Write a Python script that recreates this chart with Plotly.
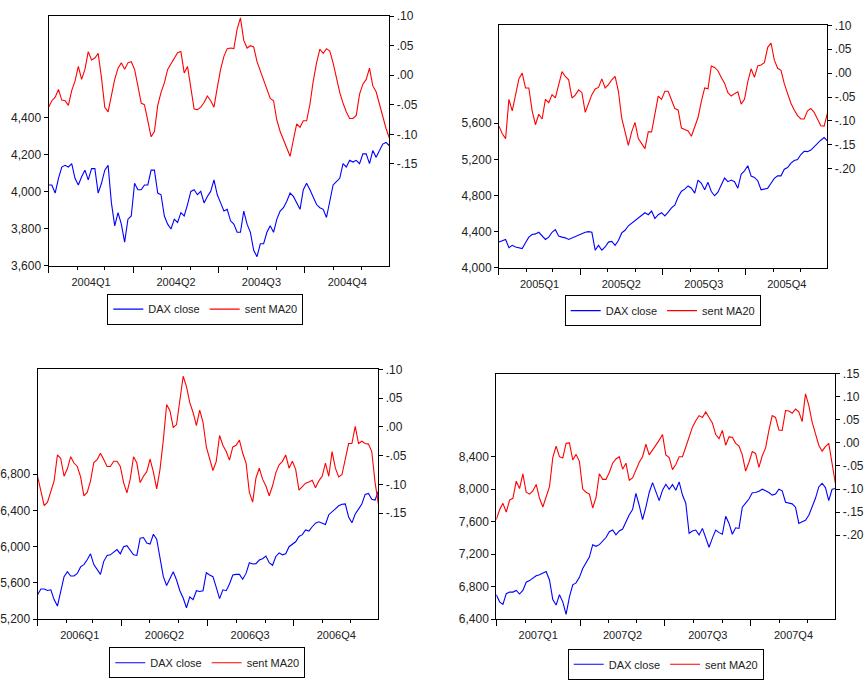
import pandas as pd
import plotly.graph_objects as go

# ---------------- data ----------------
years = [2004, 2005, 2006, 2007]

dax_2004 = [4036, 4036, 3992, 4072, 4133, 4142, 4133, 4151, 4072, 4036,
            4080, 4116, 4063, 4124, 4124, 3992, 4045, 4116, 4142, 3939,
            3815, 3886, 3824, 3727, 3851, 3868, 4045, 4010, 4010, 4036,
            4036, 4116, 4116, 3992, 3983, 3868, 3824, 3798, 3851, 3833,
            3886, 3868, 3930, 4001, 4010, 3983, 4001, 3939, 3974, 4001,
            4063, 3983, 3939, 3895, 3904, 3842, 3824, 3780, 3780, 3895,
            3824, 3780, 3683, 3648, 3718, 3718, 3780, 3815, 3780, 3851,
            3895, 3913, 3948, 3992, 3974, 3939, 3904, 4010, 4045, 4010,
            3974, 3930, 3913, 3904, 3860, 3957, 4036, 4054, 4072, 4151,
            4133, 4169, 4160, 4169, 4151, 4204, 4204, 4151, 4222, 4186,
            4222, 4257, 4266, 4248]
sent_2004 = [-0.054, -0.043, -0.037, -0.024, -0.042, -0.043, -0.051, -0.026, -0.010, 0.015,
             -0.007, 0.010, 0.040, 0.026, 0.029, 0.037, -0.004, -0.054, -0.062, -0.032,
             -0.007, 0.012, 0.021, 0.010, 0.021, 0.023, 0.010, -0.018, -0.047, -0.050,
             -0.076, -0.104, -0.095, -0.051, -0.029, -0.013, 0.010, 0.019, 0.028, 0.038,
             0.040, 0.004, 0.015, -0.021, -0.057, -0.058, -0.054, -0.046, -0.035, -0.043,
             -0.054, -0.021, 0.010, 0.032, 0.045, 0.046, 0.045, 0.078, 0.097, 0.059,
             0.046, 0.050, 0.048, 0.023, 0.007, -0.007, -0.025, -0.039, -0.043, -0.076,
             -0.095, -0.109, -0.122, -0.137, -0.109, -0.082, -0.088, -0.077, -0.077, -0.049,
             -0.010, 0.021, 0.044, 0.037, 0.045, 0.041, 0.021, -0.004, -0.029, -0.047,
             -0.062, -0.073, -0.073, -0.068, -0.032, -0.015, -0.007, 0.012, -0.018, -0.028,
             -0.049, -0.068, -0.090, -0.106]

dax_2005 = [4282, 4300, 4311, 4221, 4246, 4228, 4217, 4210, 4275, 4337,
            4366, 4373, 4391, 4355, 4311, 4337, 4391, 4420, 4348, 4337,
            4329, 4311, 4326, 4348, 4362, 4373, 4391, 4398, 4391, 4192,
            4246, 4192, 4228, 4282, 4290, 4246, 4300, 4384, 4413, 4463,
            4492, 4518, 4554, 4579, 4608, 4586, 4626, 4543, 4586, 4608,
            4572, 4615, 4662, 4691, 4782, 4847, 4869, 4905, 4880, 4825,
            4970, 4934, 4862, 4945, 4843, 4796, 4836, 4916, 4992, 4952,
            4970, 4952, 4880, 5035, 5072, 5129, 5014, 4999, 4963, 4862,
            4869, 4880, 4934, 4988, 5017, 5017, 5090, 5108, 5158, 5187,
            5198, 5253, 5289, 5285, 5303, 5343, 5376, 5412, 5441, 5405]
sent_2005 = [-0.111, -0.127, -0.137, -0.055, -0.079, -0.045, -0.012, 0.000, -0.031, -0.031,
             -0.079, -0.108, -0.086, -0.096, -0.055, -0.062, -0.045, -0.052, -0.024, 0.003,
             -0.007, -0.014, -0.052, -0.046, -0.035, -0.041, -0.082, -0.065, -0.045, -0.033,
             -0.030, -0.012, -0.031, -0.024, -0.014, -0.007, -0.038, -0.094, -0.120, -0.151,
             -0.123, -0.103, -0.137, -0.147, -0.158, -0.123, -0.123, -0.086, -0.048, -0.055,
             -0.038, -0.038, -0.056, -0.074, -0.077, -0.115, -0.118, -0.121, -0.132, -0.110,
             -0.093, -0.059, -0.031, -0.033, 0.015, 0.012, 0.005, -0.009, -0.021, -0.041,
             -0.048, -0.043, -0.039, -0.065, -0.055, -0.018, 0.009, -0.009, 0.015, 0.017,
             0.022, 0.054, 0.063, 0.027, 0.010, 0.006, -0.022, -0.043, -0.063, -0.077,
             -0.089, -0.096, -0.096, -0.079, -0.074, -0.082, -0.096, -0.110, -0.111, -0.084]

dax_2006 = [5470, 5532, 5532, 5517, 5524, 5416, 5344, 5524, 5669, 5723,
            5676, 5676, 5705, 5777, 5802, 5856, 5921, 5802, 5751, 5694,
            5838, 5903, 5910, 5939, 5968, 5921, 6000, 6011, 5964, 5910,
            5903, 6094, 6101, 6040, 6029, 6137, 6083, 5867, 5669, 5571,
            5651, 5723, 5632, 5514, 5434, 5326, 5445, 5416, 5514, 5506,
            5514, 5712, 5687, 5669, 5550, 5427, 5524, 5514, 5589, 5687,
            5694, 5694, 5640, 5705, 5823, 5809, 5813, 5852, 5867, 5896,
            5823, 5795, 5892, 5932, 5910, 5921, 6000, 6025, 6054, 6112,
            6133, 6184, 6173, 6220, 6260, 6274, 6263, 6245, 6353, 6382,
            6418, 6451, 6469, 6472, 6328, 6263, 6360, 6415, 6472, 6577,
            6588, 6523, 6515, 6613]
sent_2006 = [-0.086, -0.114, -0.137, -0.131, -0.110, -0.094, -0.049, -0.055, -0.086, -0.073,
             -0.052, -0.063, -0.069, -0.087, -0.120, -0.114, -0.094, -0.062, -0.057, -0.046,
             -0.057, -0.069, -0.069, -0.060, -0.060, -0.069, -0.097, -0.115, -0.091, -0.052,
             -0.063, -0.097, -0.086, -0.078, -0.056, -0.079, -0.108, -0.074, -0.023, 0.039,
             0.028, -0.001, 0.004, 0.051, 0.088, 0.070, 0.042, 0.025, 0.002, 0.029,
             0.008, -0.035, -0.055, -0.076, -0.060, -0.015, -0.032, -0.043, -0.058, -0.035,
             -0.032, -0.023, -0.046, -0.063, -0.114, -0.131, -0.089, -0.072, -0.091, -0.103,
             -0.120, -0.103, -0.080, -0.066, -0.060, -0.049, -0.072, -0.060, -0.074, -0.110,
             -0.104, -0.098, -0.096, -0.093, -0.106, -0.094, -0.086, -0.063, -0.086, -0.043,
             -0.072, -0.087, -0.083, -0.055, -0.029, -0.029, 0.001, -0.029, -0.025, -0.029,
             -0.030, -0.043, -0.097, -0.134]

dax_2007 = [6701, 6613, 6581, 6713, 6733, 6733, 6753, 6709, 6753, 6854,
            6874, 6902, 6934, 6946, 6966, 6986, 6882, 6641, 6573, 6701,
            6613, 6460, 6673, 6822, 6846, 6914, 7022, 7095, 7163, 7316,
            7296, 7316, 7364, 7404, 7476, 7496, 7436, 7484, 7508, 7597,
            7685, 7749, 7946, 7798, 7625, 7777, 7958, 8079, 7966, 7858,
            7986, 8059, 7998, 8055, 7986, 8087, 7926, 7826, 7456, 7484,
            7496, 7436, 7516, 7404, 7284, 7396, 7496, 7464, 7444, 7665,
            7577, 7444, 7524, 7516, 7777, 7826, 7878, 7954, 7958, 7974,
            7998, 7978, 7958, 7926, 7938, 7998, 7978, 7838, 7826, 7818,
            7777, 7577, 7597, 7617, 7677, 7786, 7886, 8026, 8071, 8018,
            7858, 7998, 8006]
sent_2007 = [-0.166, -0.145, -0.131, -0.150, -0.124, -0.120, -0.083, -0.099, -0.067, -0.107,
             -0.111, -0.104, -0.090, -0.120, -0.139, -0.117, -0.095, -0.032, -0.007, -0.030,
             -0.033, -0.001, 0.000, -0.037, -0.025, -0.040, -0.100, -0.107, -0.111, -0.141,
             -0.118, -0.067, -0.079, -0.079, -0.064, -0.044, -0.035, -0.030, -0.057, -0.044,
             -0.081, -0.076, -0.058, -0.042, -0.030, -0.003, -0.026, -0.014, -0.005, 0.006,
             0.018, -0.026, -0.032, -0.058, -0.047, -0.030, -0.030, -0.009, 0.014, 0.034,
             0.048, 0.059, 0.055, 0.067, 0.055, 0.043, 0.018, 0.009, 0.027, -0.005,
             0.013, 0.012, -0.001, -0.007, -0.026, -0.061, -0.042, -0.019, -0.023, -0.053,
             -0.028, -0.011, 0.027, 0.059, 0.055, 0.028, 0.027, 0.070, 0.069, 0.064,
             0.073, 0.067, 0.046, 0.106, 0.081, 0.045, 0.020, -0.005, -0.018, -0.008,
             -0.001, -0.046, -0.088]

dax_ticks_2004 = [3600, 3800, 4000, 4200, 4400]
dax_ticks_2005 = [4000, 4400, 4800, 5200, 5600]
dax_ticks_2006 = [5200, 5600, 6000, 6400, 6800]
dax_ticks_2007 = [6400, 6800, 7200, 7600, 8000, 8400]
sent_ticks_2004 = [0.10, 0.05, 0.00, -0.05, -0.10, -0.15]
sent_ticks_2005 = [0.10, 0.05, 0.00, -0.05, -0.10, -0.15, -0.20]
sent_ticks_2006 = [0.10, 0.05, 0.00, -0.05, -0.10, -0.15]
sent_ticks_2007 = [0.15, 0.10, 0.05, 0.00, -0.05, -0.10, -0.15, -0.20]

series_names = ["DAX close", "sent MA20"]

# ---------------- layout settings ----------------
W, H = 864, 681
panels = [
    dict(year=2004, dax=dax_2004, sent=sent_2004, lt=dax_ticks_2004, rt=sent_ticks_2004,
         box=(45.7, 387.7, 9.3, 264.0), lr=[3600, 4949], rr=[-0.3217, 0.10], leg=(203, 308.5)),
    dict(year=2005, dax=dax_2005, sent=sent_2005, lt=dax_ticks_2005, rt=sent_ticks_2005,
         box=(497.7, 827.3, 18.7, 266.0), lr=[4000, 6686], rr=[-0.4068, 0.10], leg=(662, 310)),
    dict(year=2006, dax=dax_2006, sent=sent_2006, lt=dax_ticks_2006, rt=sent_ticks_2006,
         box=(34.7, 376.7, 370.0, 625.0), lr=[5200, 7957], rr=[-0.3347, 0.10], leg=(205, 669.5)),
    dict(year=2007, dax=dax_2007, sent=sent_2007, lt=dax_ticks_2007, rt=sent_ticks_2007,
         box=(495.0, 835.3, 374.3, 625.0), lr=[6400, 9420], rr=[-0.3818, 0.15], leg=(665, 671)),
]

FONT = "Liberation Sans, Arial, Helvetica, sans-serif"
BLUE = "#0000FF"
RED = "#FF0000"
TXT = "#222222"


def sent_label(v):
    s = f"{abs(v):.2f}"[1:]
    return ("-" if v < -1e-9 else "") + s


fig = go.Figure()
layout = dict(
    width=W, height=H, margin=dict(l=0, r=0, t=0, b=0),
    paper_bgcolor="white", plot_bgcolor="white",
    font=dict(family=FONT, size=11, color=TXT),
)

for i, p in enumerate(panels):
    n = i + 1
    xa = "x" if n == 1 else f"x{n}"
    yl = "y" if n == 1 else f"y{2 * n - 1}"
    yr = f"y{2 * n}"
    lg = "legend" if n == 1 else f"legend{n}"
    yr_key = "yaxis" + yr[1:]
    yl_key = "yaxis" + yl[1:]
    xa_key = "xaxis" + xa[1:]

    yy = p["year"]
    xd = pd.date_range(f"{yy}-01-01", f"{yy}-12-31", periods=len(p["dax"]))
    xs = pd.date_range(f"{yy}-01-01", f"{yy}-12-31", periods=len(p["sent"]))

    fig.add_trace(go.Scatter(x=xd, y=p["dax"], mode="lines", name=series_names[0],
                             line=dict(color=BLUE, width=1.1), xaxis=xa, yaxis=yl,
                             legend=lg, showlegend=True))
    fig.add_trace(go.Scatter(x=xs, y=p["sent"], mode="lines", name=series_names[1],
                             line=dict(color=RED, width=1.1), xaxis=xa, yaxis=yr,
                             legend=lg, showlegend=True))

    l, r, t, b = p["box"]
    xdom = [l / W, r / W]
    ydom = [1 - b / H, 1 - t / H]

    layout[xa_key] = dict(
        domain=xdom, anchor=yl, range=[f"{yy}-01-01", f"{yy}-12-31"],
        showline=True, linecolor="#000", linewidth=1, mirror=True,
        showgrid=False, zeroline=False,
        tickmode="linear", tick0=f"{yy}-01-01", dtick="M3",
        ticklabelmode="period", tickformat="%YQ%q",
        ticks="outside", ticklen=6, tickcolor="#000", tickwidth=1,
        tickfont=dict(size=11, color=TXT),
        minor=dict(dtick="M1", tick0=f"{yy}-01-01", ticks="outside", ticklen=3,
                   tickcolor="#000", tickwidth=1, showgrid=False),
    )
    layout[yl_key] = dict(
        domain=ydom, anchor=xa, range=p["lr"], side="left",
        showline=True, linecolor="#000", linewidth=1, showgrid=False, zeroline=False,
        tickmode="array", tickvals=p["lt"], ticktext=[f"{v:,}" for v in p["lt"]],
        ticks="outside", ticklen=4, tickcolor="#000",
        tickfont=dict(size=12, color=TXT),
    )
    layout[yr_key] = dict(
        overlaying=yl, anchor=xa, side="right", range=p["rr"],
        showline=True, linecolor="#000", linewidth=1, showgrid=False, zeroline=False,
        tickmode="array", tickvals=p["rt"], ticktext=[sent_label(v) for v in p["rt"]],
        ticks="outside", ticklen=4, tickcolor="#000",
        tickfont=dict(size=12, color=TXT),
    )
    cx, cy = p["leg"]
    layout[lg] = dict(
        x=cx / W, y=1 - cy / H, xanchor="center", yanchor="middle",
        orientation="h", bgcolor="white", bordercolor="#000", borderwidth=1,
        font=dict(family=FONT, size=11, color=TXT), itemwidth=30,
        tracegroupgap=0,
    )

fig.update_layout(**layout)
fig.write_html(
    "out.html",
    config={"displayModeBar": False},
    post_script="document.body.style.margin='0';document.body.style.padding='0';"
                "document.documentElement.style.overflow='hidden';",
)
